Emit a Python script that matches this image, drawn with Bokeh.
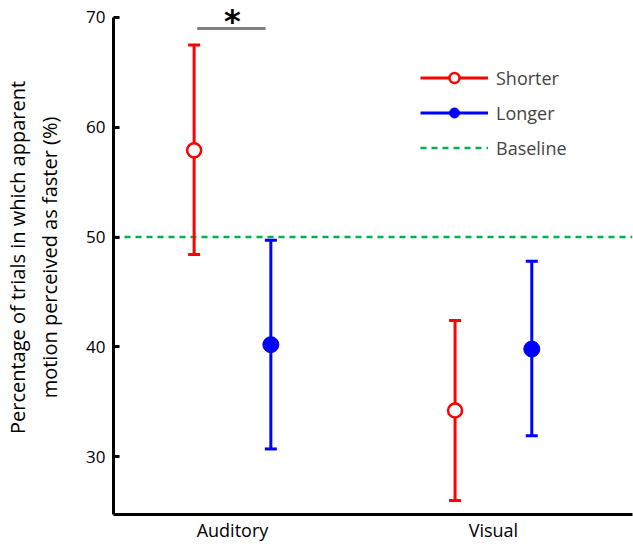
from bokeh.plotting import figure
from bokeh.models import Range1d, FixedTicker, Legend, LegendItem
from bokeh.core.properties import value
from bokeh.embed import file_html
from bokeh.resources import INLINE

conditions = ["Auditory", "Visual"]
cond_pos = [1, 2]
offset = 0.147

shorter_mean = [57.9, 34.2]
shorter_upper = [67.5, 42.4]
shorter_lower = [48.4, 26.0]

longer_mean = [40.2, 39.8]
longer_upper = [49.7, 47.8]
longer_lower = [30.7, 31.9]

baseline = 50
sig_level = 69.0
y_ticks = [30, 40, 50, 60, 70]

FONT = "Open Sans"

y_start, y_axis_top = 24.73, 70.0
y_end = y_axis_top + 17 / 11.0  # room above the axis for the asterisk

p = figure(width=633, height=544, output_backend="svg", toolbar_location=None,
           x_range=Range1d(0.544, 2.533), y_range=Range1d(y_start, y_end),
           min_border_left=113, min_border_right=1, min_border_top=0, min_border_bottom=29)
p.outline_line_color = None
p.grid.visible = False

xs_short = [c - offset for c in cond_pos]
xs_long = [c + offset for c in cond_pos]

red = "#ff0000"
blue = "#0000ff"
green = "#00b050"

# baseline
p.line(x=[0.544, 2.533], y=[baseline, baseline], line_color=green, line_width=2.5, line_dash="6 5")

# error bars
p.segment(x0=xs_short, y0=shorter_lower, x1=xs_short, y1=shorter_upper, line_color=red, line_width=3)
p.scatter(x=xs_short + xs_short, y=shorter_upper + shorter_lower, marker="dash", size=12, line_color=red, line_width=3)
p.segment(x0=xs_long, y0=longer_lower, x1=xs_long, y1=longer_upper, line_color=blue, line_width=3)
p.scatter(x=xs_long + xs_long, y=longer_upper + longer_lower, marker="dash", size=12, line_color=blue, line_width=3)

p.scatter(x=xs_short, y=shorter_mean, marker="circle", size=14, fill_color="white", line_color=red, line_width=2.5)
p.scatter(x=xs_long, y=longer_mean, marker="circle", size=16, fill_color=blue, line_color=blue, line_width=1)

# significance
p.line(x=[xs_short[0] + 0.012, xs_long[0] - 0.02], y=[sig_level, sig_level], line_color="#808080", line_width=3)
p.text(x=[cond_pos[0]], y=[sig_level], text=["*"], text_align="center", text_baseline="alphabetic",
       text_font=value("DejaVu Sans"), text_font_size="32px", text_font_style="bold",
       y_offset=-7, text_color="black")

# legend proxies
nan = float("nan")
l_s = p.line(x=[nan], y=[nan], line_color=red, line_width=3)
m_s = p.scatter(x=[nan], y=[nan], marker="circle", size=13, fill_color="white", line_color=red, line_width=2.5)
l_l = p.line(x=[nan], y=[nan], line_color=blue, line_width=3)
m_l = p.scatter(x=[nan], y=[nan], marker="circle", size=15, fill_color=blue, line_color=blue)
l_b = p.line(x=[nan], y=[nan], line_color=green, line_width=2.5, line_dash="6 5")

legend = Legend(items=[LegendItem(label="Shorter", renderers=[l_s, m_s]),
                       LegendItem(label="Longer", renderers=[l_l, m_l]),
                       LegendItem(label="Baseline", renderers=[l_b])],
                location=(307, 354), glyph_width=68, glyph_height=25, spacing=10,
                label_text_font=FONT, label_text_font_size="18px", label_standoff=8,
                label_height=25,
                border_line_color=None, background_fill_alpha=0, padding=0, margin=0)
p.add_layout(legend)

# axes
p.yaxis.ticker = FixedTicker(ticks=y_ticks)
p.yaxis.bounds = (y_start, y_axis_top)
p.yaxis.minor_tick_line_color = None
p.yaxis.major_tick_in = 6
p.yaxis.major_tick_out = 0
p.yaxis.axis_line_width = 3
p.yaxis.major_tick_line_width = 3
p.yaxis.major_label_text_font = FONT
p.yaxis.major_label_text_font_size = "17px"
p.yaxis.major_label_text_color = "black"
p.yaxis.major_label_standoff = 8
p.yaxis.axis_label = "Percentage of trials in which apparent\nmotion perceived as faster (%)"
p.yaxis.axis_label_text_font = FONT
p.yaxis.axis_label_text_font_size = "20px"
p.yaxis.axis_label_text_font_style = "normal"
p.yaxis.axis_label_text_color = "black"
p.yaxis.axis_label_standoff = 20

p.xaxis.ticker = FixedTicker(ticks=cond_pos)
p.xaxis.major_label_overrides = {c: n for c, n in zip(cond_pos, conditions)}
p.xaxis.minor_tick_line_color = None
p.xaxis.major_tick_line_color = None
p.xaxis.major_tick_in = 0
p.xaxis.major_tick_out = 0
p.xaxis.axis_line_width = 3
p.xaxis.major_label_text_font = FONT
p.xaxis.major_label_text_font_size = "18px"
p.xaxis.major_label_text_color = "black"
p.xaxis.major_label_standoff = 3

open("out.html", "w").write(file_html(p, INLINE))
